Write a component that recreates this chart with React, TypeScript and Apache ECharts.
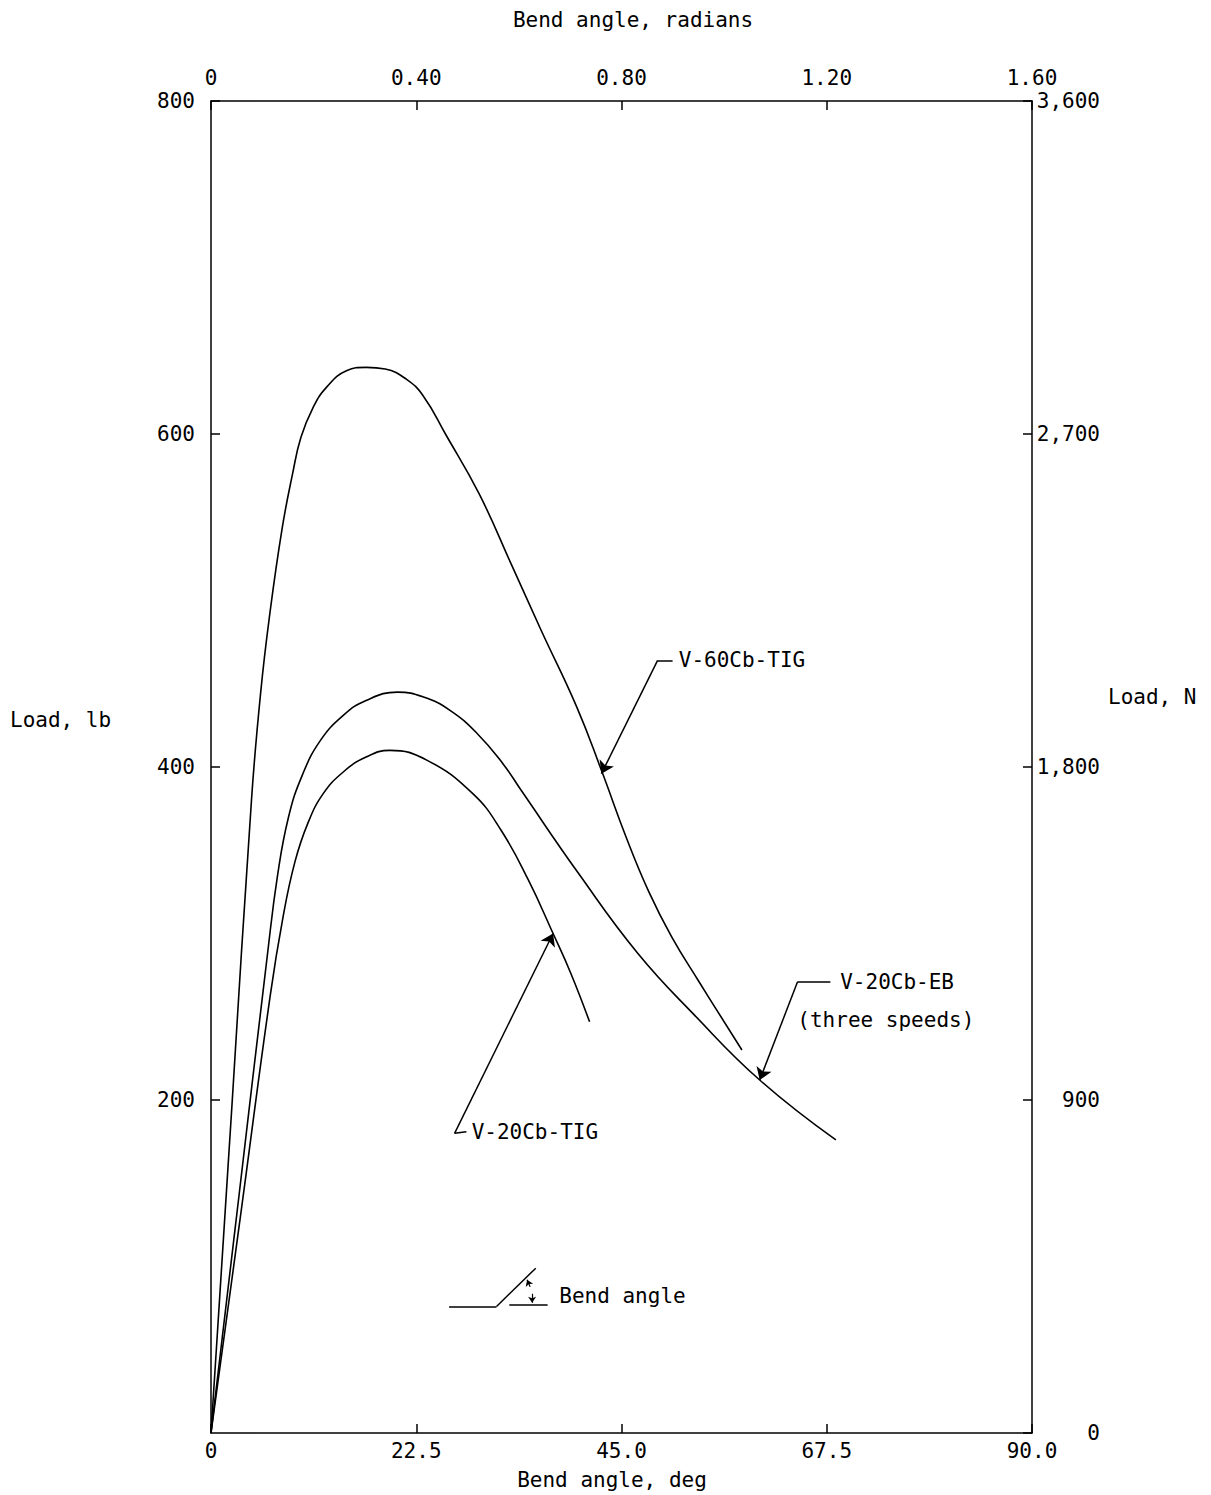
import React, { useEffect, useRef } from "react";
import * as echarts from "echarts";

// ---- Data (bend angle in degrees, load in lb) ----
const deg60 = [0, 2.3, 4.46, 5.45, 6.4, 7.79, 8.94, 9.86, 11.2, 12.65, 14.85, 17.0, 19.1, 21.4, 23.25, 25.7, 29.4, 32.9, 36.2, 40.1, 42.8, 45.5, 48.0, 50.5, 53.5, 58.2];
const load60 = [0, 197, 382, 445, 490, 543, 576, 598, 616, 628, 638, 640, 639, 633, 623, 600, 564, 522, 482, 436, 398, 358, 325, 298, 271, 230];

const degEB = [0, 3.1, 6.2, 7.3, 8.5, 10.0, 12.0, 14.5, 17.0, 20.45, 23.3, 26.2, 29.2, 32.0, 34.0, 40.3, 46.8, 53.0, 60.15, 68.5];
const loadEB = [0, 144, 288, 335, 370, 395, 416, 431, 440, 445, 442, 434, 420, 402, 386, 336, 288, 251, 212, 176];

const degTIG = [0, 3.25, 6.5, 7.9, 9.2, 10.6, 12.3, 14.5, 17.0, 19.6, 23.7, 28.7, 31.8, 34.8, 37.5, 39.45, 41.5];
const loadTIG = [0, 131, 263, 310, 343, 366, 384, 397, 406, 410, 404, 384, 362, 332, 300, 276, 247];

// ---- Axis ticks ----
const degTicks = [0, 22.5, 45.0, 67.5, 90.0];
const radTicks = [0, 0.4, 0.8, 1.2, 1.6];
const lbTicks = [0, 200, 400, 600, 800];
const nTicks = [0, 900, 1800, 2700, 3600];

// ---- Annotations (data coordinates) ----
const labelNames = ["V-60Cb-TIG", "V-20Cb-EB", "(three speeds)", "V-20Cb-TIG", "Bend angle"];
const labelPos = [[51.0, 464], [68.7, 271], [64.0, 248], [28.3, 181], [37.9, 82]];
const arrowSegs = [
  [[48.96, 464], [42.8, 396]],
  [[64.3, 271], [60.15, 212]],
  [[26.7, 180], [37.5, 300]],
];
const stubSegs = [
  [[48.96, 464], [50.6, 464]],
  [[64.3, 271], [67.9, 271]],
  [[26.7, 180], [28.0, 181]],
  [[26.1, 76], [31.3, 76]],
  [[31.3, 76], [35.6, 99]],
  [[32.7, 77], [36.9, 77]],
];
const tinyArrows = [
  [[34.98, 87.8], [34.65, 92.0]],
  [[35.2, 83.6], [35.2, 78.2]],
];

const FONT = "DejaVu Sans Mono";
const FS = 21;

function toPairs(xs: number[], ys: number[]) {
  return xs.map((x, i) => [x, ys[i]]);
}

export default function App() {
  const ref = useRef<HTMLDivElement>(null);
  useEffect(() => {
    if (!ref.current) return;
    const chart = echarts.init(ref.current, null, { renderer: "svg" });
    const mkLine = () => ({ show: true, onZero: false, lineStyle: { color: "#000", width: 1.5 } });
    const mkTick = () => ({ show: true, inside: false, length: -9, lineStyle: { color: "#000", width: 1.5 } });
    const lbl = { fontFamily: FONT, fontSize: FS, color: "#000" };
    const curve = (name: string, xs: number[], ys: number[]) => ({
      name,
      type: "line",
      xAxisIndex: 0,
      yAxisIndex: 0,
      data: toPairs(xs, ys),
      smooth: 0.45,
      showSymbol: false,
      symbol: "none",
      lineStyle: { color: "#000", width: 1.6 },
    });
    chart.setOption({
      animation: false,
      backgroundColor: "#fff",
      grid: { left: 211, right: 179, top: 101, bottom: 62, containLabel: false },
      xAxis: [
        {
          type: "value",
          position: "bottom",
          min: degTicks[0],
          max: degTicks[degTicks.length - 1],
          interval: 22.5,
          axisLine: mkLine(),
          axisTick: mkTick(),
          splitLine: { show: false },
          axisLabel: { ...lbl, margin: 7, formatter: (v: number) => (v === 0 ? "0" : v.toFixed(1)) },
        },
        {
          type: "value",
          position: "top",
          min: radTicks[0],
          max: radTicks[radTicks.length - 1],
          interval: 0.4,
          axisLine: mkLine(),
          axisTick: mkTick(),
          splitLine: { show: false },
          axisLabel: { ...lbl, margin: 13, formatter: (v: number) => (v === 0 ? "0" : v.toFixed(2)) },
        },
      ],
      yAxis: [
        {
          type: "value",
          position: "left",
          min: lbTicks[0],
          max: lbTicks[lbTicks.length - 1],
          interval: 200,
          axisLine: mkLine(),
          axisTick: mkTick(),
          splitLine: { show: false },
          axisLabel: { ...lbl, margin: 16, showMinLabel: false },
        },
        {
          type: "value",
          position: "right",
          min: nTicks[0],
          max: nTicks[nTicks.length - 1],
          interval: 900,
          axisLine: mkLine(),
          axisTick: mkTick(),
          splitLine: { show: false },
          axisLabel: {
            ...lbl,
            margin: 68,
            align: "right",
            formatter: (v: number) => v.toLocaleString("en-US"),
          },
        },
      ],
      graphic: [
        { type: "text", x: 633, y: 20, style: { text: "Bend angle, radians", fontFamily: FONT, fontSize: FS, fill: "#000", align: "center", verticalAlign: "middle" } },
        { type: "text", x: 612, y: 1480, style: { text: "Bend angle, deg", fontFamily: FONT, fontSize: FS, fill: "#000", align: "center", verticalAlign: "middle" } },
        { type: "text", x: 10, y: 720, style: { text: "Load, lb", fontFamily: FONT, fontSize: FS, fill: "#000", align: "left", verticalAlign: "middle" } },
        { type: "text", x: 1108, y: 697, style: { text: "Load, N", fontFamily: FONT, fontSize: FS, fill: "#000", align: "left", verticalAlign: "middle" } },
      ],
      series: [
        curve("V-60Cb-TIG", deg60, load60),
        curve("V-20Cb-EB", degEB, loadEB),
        curve("V-20Cb-TIG", degTIG, loadTIG),
        {
          type: "lines",
          coordinateSystem: "cartesian2d",
          xAxisIndex: 0,
          yAxisIndex: 0,
          symbol: ["none", "arrow"],
          symbolSize: 12,
          lineStyle: { color: "#000", width: 1.5, opacity: 1, curveness: 0 },
          data: arrowSegs.map((c) => ({ coords: c })),
        },
        {
          type: "lines",
          coordinateSystem: "cartesian2d",
          xAxisIndex: 0,
          yAxisIndex: 0,
          symbol: ["none", "none"],
          lineStyle: { color: "#000", width: 1.5, opacity: 1, curveness: 0 },
          data: stubSegs.map((c) => ({ coords: c })),
        },
        {
          type: "lines",
          coordinateSystem: "cartesian2d",
          xAxisIndex: 0,
          yAxisIndex: 0,
          symbol: ["none", "arrow"],
          symbolSize: 6,
          lineStyle: { color: "#000", width: 1.2, opacity: 1, curveness: 0 },
          data: tinyArrows.map((c) => ({ coords: c })),
        },
        {
          type: "scatter",
          xAxisIndex: 0,
          yAxisIndex: 0,
          symbol: "circle",
          symbolSize: 1,
          itemStyle: { color: "rgba(0,0,0,0)", opacity: 1 },
          data: labelNames.map((n, i) => ({ name: n, value: labelPos[i] })),
          label: {
            show: true,
            position: "right",
            distance: 2,
            formatter: "{b}",
            fontFamily: FONT,
            fontSize: FS,
            color: "#000",
            opacity: 1,
          },
          silent: true,
        },
      ],
    });
    return () => chart.dispose();
  }, []);
  return (
    <div
      ref={ref}
      style={{ position: "fixed", left: 0, top: 0, width: 1211, height: 1495, background: "#fff" }}
    />
  );
}
